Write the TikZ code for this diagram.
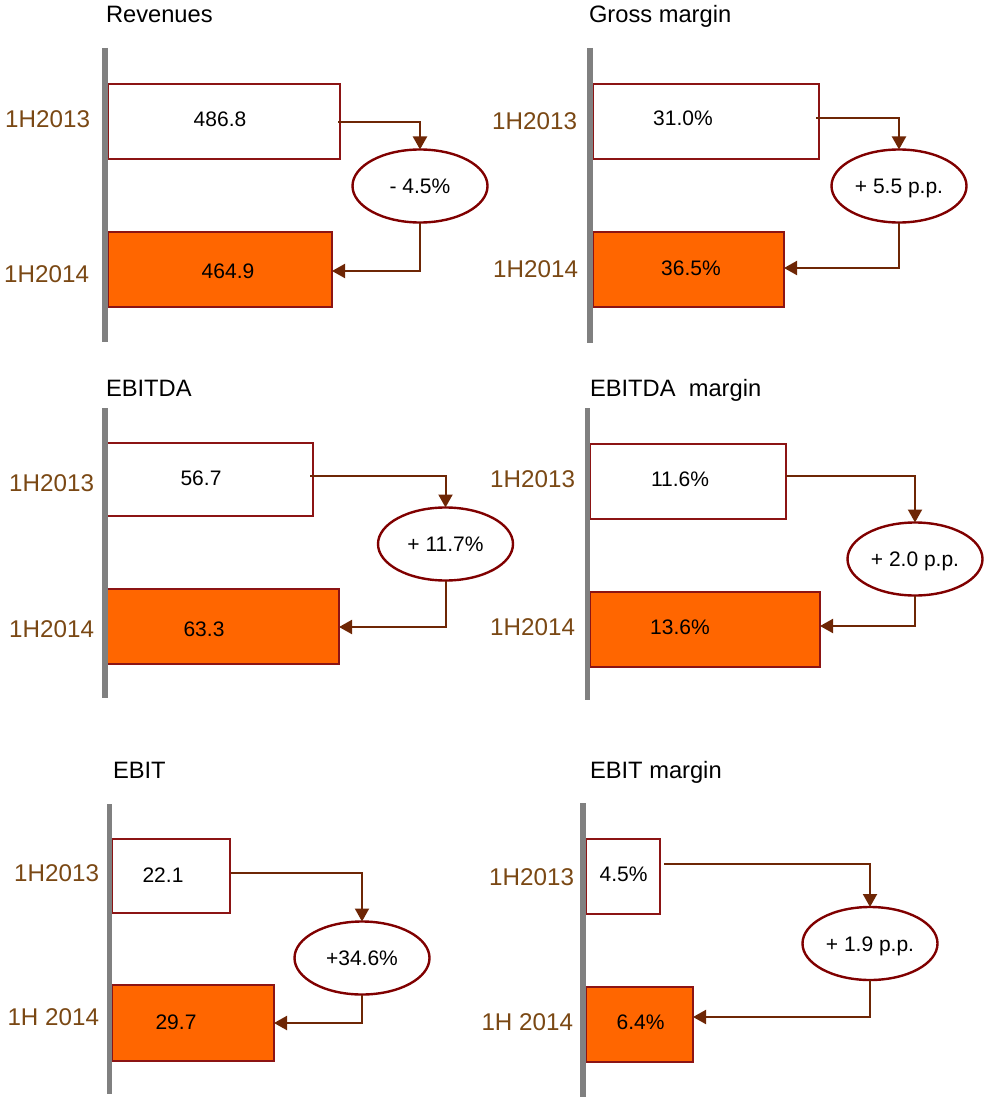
\documentclass[tikz,border=0pt]{standalone}
\usepackage{fontspec}
\setmainfont{Liberation Sans}
\usetikzlibrary{arrows.meta,shapes.geometric}

\definecolor{barorange}{RGB}{255,102,0}
\definecolor{barline}{RGB}{140,20,20}
\definecolor{ovalline}{RGB}{128,0,0}
\definecolor{linkbrown}{RGB}{110,38,5}
\definecolor{periodbrown}{RGB}{122,72,20}
\definecolor{axisgray}{RGB}{128,128,128}

\tikzset{
  every node/.style={outer sep=0pt},
  paneltitle/.style={anchor=base west, inner sep=0pt, font=\fontsize{23.7}{28}\selectfont},
  period/.style={anchor=east, inner sep=0pt, text=periodbrown, font=\fontsize{24.2}{28}\selectfont},
  valtext/.style={inner sep=0pt, font=\fontsize{21}{25}\selectfont},
  oldbar/.style={draw=barline, line width=1.4pt, fill=white, anchor=north west, inner sep=0pt},
  newbar/.style={oldbar, fill=barorange},
  change/.style={ellipse, draw=ovalline, line width=2.4pt, fill=white,
    minimum width=135pt, minimum height=73pt, inner sep=0pt,
    font=\fontsize{21}{25}\selectfont, text height=15pt, text depth=0pt},
  link/.style={draw=linkbrown, line width=2pt, -{Triangle[length=13pt,width=14pt]}},
  baseaxis/.style={draw=axisgray, line width=5.5pt},
}

\begin{document}
\begin{tikzpicture}[x=1pt, y=-1pt]
\useasboundingbox (0,0) rectangle (984,1097);

% ---------- Revenues ----------
\node[paneltitle] (t1) at (106,23) {Revenues};
\node[oldbar, minimum width=232pt, minimum height=75pt] (a1) at (108,84) {};
\node[newbar, minimum width=224pt, minimum height=75pt] (b1) at (108,232) {};
\draw[baseaxis] (105,48) -- (105,342);
\node[period] (pa1) at (90,119) {1H2013};
\node[period] (pb1) at (89,274) {1H2014};
\node[valtext] (va1) at (220,119) {486.8};
\node[valtext] (vb1) at (228,271) {464.9};
\node[change] (c1) at (420,186) {- 4.5\%};
\coordinate (s1) at (338,122);
\coordinate (e1) at (b1.east |- 0,271);
\draw[link] (s1) -| (c1.north);
\draw[link] (c1.south) |- (e1);

% ---------- Gross margin ----------
\node[paneltitle] (t2) at (589,23) {Gross margin};
\node[oldbar, minimum width=226pt, minimum height=75pt] (a2) at (593,84) {};
\node[newbar, minimum width=191pt, minimum height=75pt] (b2) at (593,232) {};
\draw[baseaxis] (590,48) -- (590,343);
\node[period] (pa2) at (577,121) {1H2013};
\node[period] (pb2) at (578,269) {1H2014};
\node[valtext] (va2) at (683,118) {31.0\%};
\node[valtext] (vb2) at (691,268) {36.5\%};
\node[change] (c2) at (899,186) {+ 5.5 p.p.};
\coordinate (s2) at (816,118);
\coordinate (e2) at (b2.east |- 0,268);
\draw[link] (s2) -| (c2.north);
\draw[link] (c2.south) |- (e2);

% ---------- EBITDA ----------
\node[paneltitle] (t3) at (106,396) {EBITDA};
\node[oldbar, minimum width=206pt, minimum height=73pt] (a3) at (107,443) {};
\node[newbar, minimum width=232pt, minimum height=75pt] (b3) at (107,589) {};
\draw[baseaxis] (105,408) -- (105,698);
\node[period] (pa3) at (94,483) {1H2013};
\node[period] (pb3) at (94,629) {1H2014};
\node[valtext] (va3) at (201,478) {56.7};
\node[valtext] (vb3) at (204,629) {63.3};
\node[change] (c3) at (445.5,544) {+ 11.7\%};
\coordinate (s3) at (310,476);
\coordinate (e3) at (b3.east |- 0,627);
\draw[link] (s3) -| (c3.north);
\draw[link] (c3.south) |- (e3);

% ---------- EBITDA margin ----------
\node[paneltitle] (t4) at (590,396) {EBITDA\ \ margin};
\node[oldbar, minimum width=196pt, minimum height=75pt] (a4) at (590,444) {};
\node[newbar, minimum width=230pt, minimum height=75pt] (b4) at (590,592) {};
\draw[baseaxis] (587.5,408) -- (587.5,700);
\node[period] (pa4) at (575,479) {1H2013};
\node[period] (pb4) at (575,627) {1H2014};
\node[valtext] (va4) at (680,479) {11.6\%};
\node[valtext] (vb4) at (680,627) {13.6\%};
\node[change] (c4) at (915,559) {+ 2.0 p.p.};
\coordinate (s4) at (786,476);
\coordinate (e4) at (b4.east |- 0,626);
\draw[link] (s4) -| (c4.north);
\draw[link] (c4.south) |- (e4);

% ---------- EBIT ----------
\node[paneltitle] (t5) at (113,778) {EBIT};
\node[oldbar, minimum width=118pt, minimum height=74pt] (a5) at (112,839) {};
\node[newbar, minimum width=162pt, minimum height=76pt] (b5) at (112,985) {};
\draw[baseaxis] (109.5,804) -- (109.5,1094);
\node[period] (pa5) at (99,873) {1H2013};
\node[period] (pb5) at (99,1017) {1H 2014};
\node[valtext] (va5) at (163,875) {22.1};
\node[valtext] (vb5) at (176,1022) {29.7};
\node[change] (c5) at (362,958) {+34.6\%};
\coordinate (s5) at (231,873);
\coordinate (e5) at (b5.east |- 0,1023);
\draw[link] (s5) -| (c5.north);
\draw[link] (c5.south) |- (e5);

% ---------- EBIT margin ----------
\node[paneltitle] (t6) at (590,778) {EBIT margin};
\node[oldbar, minimum width=74pt, minimum height=75pt] (a6) at (586,839) {};
\node[newbar, minimum width=107pt, minimum height=75pt] (b6) at (586,987) {};
\draw[baseaxis] (583,803) -- (583,1097);
\node[period] (pa6) at (574,877) {1H2013};
\node[period] (pb6) at (573,1022) {1H 2014};
\node[valtext] (va6) at (623.5,874) {4.5\%};
\node[valtext] (vb6) at (640.5,1022) {6.4\%};
\node[change] (c6) at (870,943.5) {+ 1.9 p.p.};
\coordinate (s6) at (664,864);
\coordinate (e6) at (b6.east |- 0,1017);
\draw[link] (s6) -| (c6.north);
\draw[link] (c6.south) |- (e6);
\end{tikzpicture}
\end{document}
